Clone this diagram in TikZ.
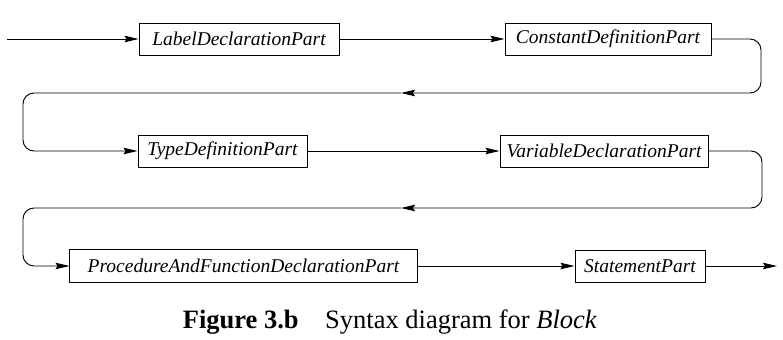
\documentclass[tikz,border=0pt]{standalone}
\usepackage{fontspec}
\setmainfont{Liberation Serif}
\usetikzlibrary{arrows.meta}
\tikzset{
  part/.style={draw, line width=1bp, rectangle, minimum height=32bp, inner sep=0pt,
    font=\fontsize{19.5bp}{22bp}\selectfont\itshape},
  conn/.style={line width=0.95bp, rounded corners=11bp},
  tip/.style={-{Stealth[length=14bp,width=6.5bp,inset=2bp]}}
}
\begin{document}
\begin{tikzpicture}[x=1bp,y=-1bp]
\useasboundingbox (0,0) rectangle (783,339);
% row 1
\coordinate (in) at (7,39);
\node[part, minimum width=200bp] (L) at (239,39) {LabelDeclarationPart};
\node[part, minimum width=206bp] (C) at (608,39) {ConstantDefinitionPart};
% row 2
\node[part, minimum width=169bp] (T) at (222.5,151) {TypeDefinitionPart};
\node[part, minimum width=208bp] (V) at (604,151) {VariableDeclarationPart};
% row 3
\node[part, minimum width=347bp, minimum height=33bp] (P) at (243.5,266) {ProcedureAndFunctionDeclarationPart};
\node[part, minimum width=130bp] (S) at (640,266) {StatementPart};
\coordinate (out) at (777,266);
% turn points
\coordinate (r1a) at (761,39);
\coordinate (r1b) at (761,93);
\coordinate (m1) at (401,93);
\coordinate (l1a) at (23,93);
\coordinate (l1b) at (23,151);
\coordinate (r2a) at (762,151);
\coordinate (r2b) at (762,208);
\coordinate (m2) at (401,208);
\coordinate (l2a) at (23,208);
\coordinate (l2b) at (23,266);
% connectors
\draw[conn,tip] (in) -- (L);
\draw[conn,tip] (L) -- (C);
\draw[conn,tip] (C.east) -- (r1a) -- (r1b) -- (m1);
\draw[conn,tip] (m1) -- (l1a) -- (l1b) -- (T.west);
\draw[conn,tip] (T) -- (V);
\draw[conn,tip] (V.east) -- (r2a) -- (r2b) -- (m2);
\draw[conn,tip] (m2) -- (l2a) -- (l2b) -- (P.west);
\draw[conn,tip] (P) -- (S);
\draw[conn,tip] (S) -- (out);
% caption
\node[anchor=base, font=\fontsize{26.5bp}{30bp}\selectfont] (cap) at (390,328)
  {\textbf{Figure 3.b}\hspace{1em}Syntax diagram for \textit{Block}};
\end{tikzpicture}
\end{document}
